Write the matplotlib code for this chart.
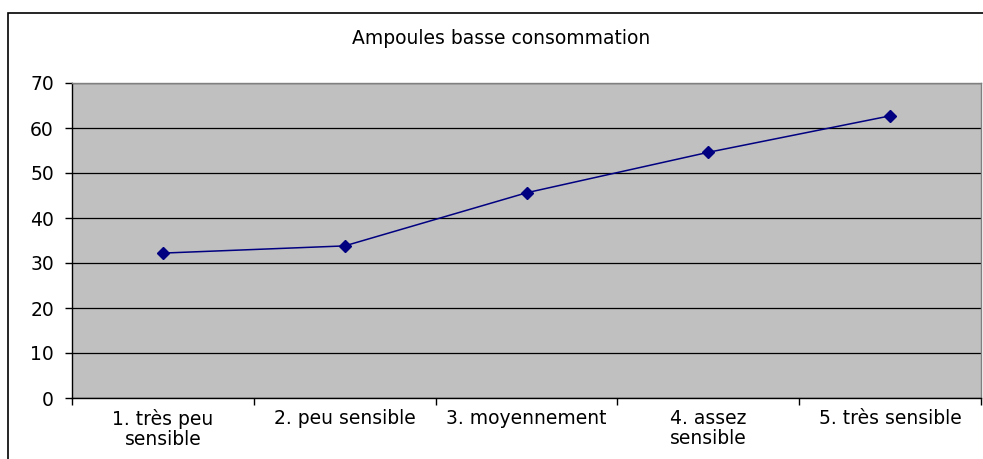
import matplotlib
matplotlib.use("Agg")
import matplotlib.pyplot as plt
from matplotlib.patches import Rectangle
import numpy as np

plt.rcParams['font.family'] = ['DejaVu Sans']

categories = ["1. très peu\nsensible", "2. peu sensible", "3. moyennement", "4. assez\nsensible", "5. très sensible"]
values = [32.2, 33.8, 45.6, 54.6, 62.7]
title = "Ampoules basse consommation"
yticks = [0, 10, 20, 30, 40, 50, 60, 70]

FS = 13.5

fig = plt.figure(figsize=(9.83, 4.59), dpi=100)
fig.patch.set_facecolor('white')

# outer chart frame (clipped at right and bottom)
fig.add_artist(Rectangle((8/983, -0.05), 1.2, 1 - 13/459 + 0.05, transform=fig.transFigure,
                         fill=False, edgecolor='black', linewidth=1.2, clip_on=False))

ax = fig.add_axes([72/983, 61/459, 909/983, 315/459])
ax.set_facecolor('#C0C0C0')

x = np.arange(len(values))
ax.plot(x, values, color='#000080', linewidth=1.1, marker='D', markersize=6.5,
        markerfacecolor='#000080', markeredgecolor='#000080', zorder=3)

ax.set_xlim(-0.5, len(values) - 0.5)
ax.set_ylim(0, 70)
ax.set_yticks(yticks)
ax.yaxis.grid(True, color='black', linewidth=0.9)
ax.set_axisbelow(True)

ax.set_xticks(np.arange(-0.5, len(values), 1.0))
ax.set_xticklabels([])
ax.set_xticks(x, minor=True)
ax.set_xticklabels(categories, minor=True, fontsize=FS, linespacing=1.05)
ax.tick_params(axis='x', which='minor', length=0, pad=8)
ax.tick_params(axis='x', which='major', length=5, width=1, color='black', direction='out')
ax.tick_params(axis='y', length=5, width=1, labelsize=FS, pad=8, direction='out')

for side in ['left', 'bottom']:
    ax.spines[side].set_color('black')
    ax.spines[side].set_linewidth(1.0)
for side in ['top', 'right']:
    ax.spines[side].set_color('#808080')
    ax.spines[side].set_linewidth(1.0)

fig.text(501/983, 1 - 38/459, title, ha='center', va='center', fontsize=FS)

fig.savefig("out.png", dpi=100)
